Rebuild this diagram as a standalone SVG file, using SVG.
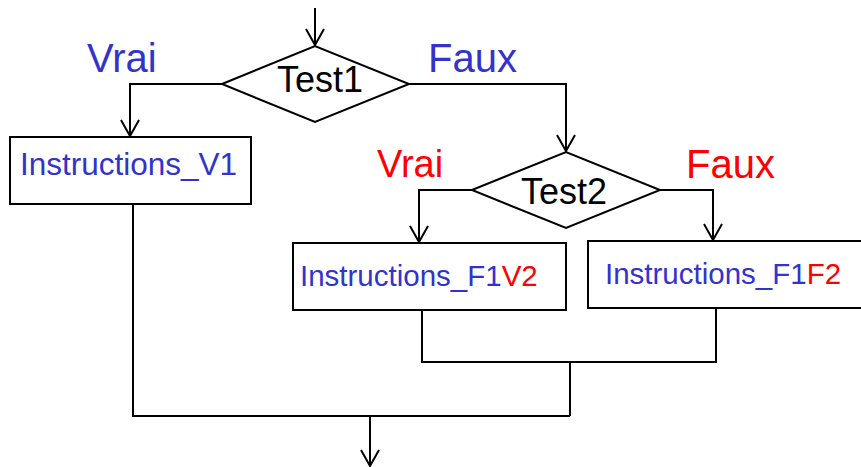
<svg xmlns="http://www.w3.org/2000/svg" width="861" height="467" viewBox="0 0 861 467">
  <defs>
    <!-- open V arrowhead used on every flow line -->
    <marker id="arrow" markerUnits="userSpaceOnUse" markerWidth="20" markerHeight="22" viewBox="-18 -11 20 22" refX="0" refY="0" orient="auto">
      <path d="M-16,-9 L0,0 L-16,9" fill="none" stroke="#000" stroke-width="2"/>
    </marker>
  </defs>
  <style>
    .shape { fill: #fff; stroke: #000; stroke-width: 2; }
    .flow { fill: none; stroke: #000; stroke-width: 2; }
    text { font-family: "Liberation Sans", Arial, sans-serif; }
    .blue { fill: #3333CC; }
    .red { fill: #FF0000; }
    .test { fill: #000; font-size: 36px; }
    .lbl { font-size: 40px; }
    .instr { font-size: 29.5px; }
  </style>

  <rect width="861" height="467" fill="#fff"/>

  <g id="connectors">
    <polyline class="flow" points="315,8 315,45" marker-end="url(#arrow)"/>
    <polyline class="flow" points="222,84 130,84 130,136" marker-end="url(#arrow)"/>
    <polyline class="flow" points="409,84 566,84 566,151" marker-end="url(#arrow)"/>
    <polyline class="flow" points="472,190 419,190 419,242" marker-end="url(#arrow)"/>
    <polyline class="flow" points="660,190 713,190 713,240" marker-end="url(#arrow)"/>
    <polyline class="flow" points="422,310 422,362 716,362 716,308"/>
    <polyline class="flow" points="570,362 570,416"/>
    <polyline class="flow" points="133,204 133,416 570,416"/>
    <polyline class="flow" points="370,416 370,466" marker-end="url(#arrow)"/>
  </g>

  <g id="test1">
    <polygon class="shape" points="222,84 315,46 409,84 315,122"/>
    <text class="test" x="277" y="92">Test1</text>
    <text class="lbl blue" x="87" y="72">Vrai</text>
    <text class="lbl blue" x="428" y="72">Faux</text>
  </g>

  <g id="instructions-v1">
    <rect class="shape" x="10" y="137" width="241" height="67"/>
    <text class="instr blue" x="20" y="175" style="font-size:31.5px">Instructions_V1</text>
  </g>

  <g id="test2">
    <polygon class="shape" points="472,190 566,152 660,190 566,228"/>
    <text class="test" x="521" y="204">Test2</text>
    <text class="lbl red" x="377" y="177" style="font-size:38px">Vrai</text>
    <text class="lbl red" x="686" y="178">Faux</text>
  </g>

  <g id="instructions-f1v2">
    <rect class="shape" x="293" y="243" width="273" height="67"/>
    <text class="instr" x="300" y="286"><tspan class="blue">Instructions_F1</tspan><tspan class="red">V2</tspan></text>
  </g>

  <g id="instructions-f1f2">
    <rect class="shape" x="588" y="241" width="290" height="67"/>
    <text class="instr" x="605" y="284"><tspan class="blue">Instructions_F1</tspan><tspan class="red">F2</tspan></text>
  </g>
</svg>
